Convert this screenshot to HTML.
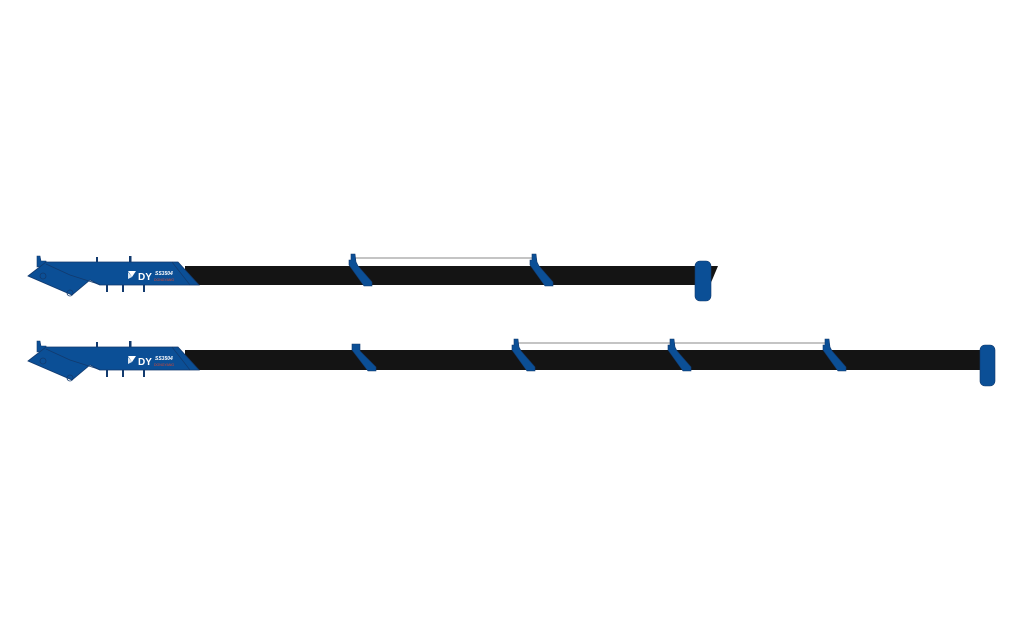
<!DOCTYPE html>
<html><head><meta charset="utf-8"><style>
html,body{margin:0;padding:0;background:#fff;width:1024px;height:640px;overflow:hidden}
svg{display:block}
</style></head><body>
<svg width="1024" height="640" viewBox="0 0 1024 640" xmlns="http://www.w3.org/2000/svg">
<defs>
<g id="clamp">
<polygon points="-3,-12 1,-12 2,-4 4,0 18,16 18,20 10,20 -5,-1 -5,-6 -3,-6" fill="#0b4f96" stroke="#123a6e" stroke-width="0.6"/>
</g>
<g id="clampNoPost">
<polygon points="-6,-7 2,-7 2,0 18,16 18,20 10,20 -6,-1" fill="#0b4f96" stroke="#123a6e" stroke-width="0.6"/>
</g>
<g id="base">
<!-- pins -->
<rect x="96" y="-8" width="2" height="8" fill="#123a6e"/>
<rect x="129" y="-9" width="2.5" height="9" fill="#123a6e"/>
<rect x="106" y="19" width="2" height="8" fill="#123a6e"/>
<rect x="122" y="19" width="2" height="8" fill="#123a6e"/>
<rect x="143" y="19" width="2" height="8" fill="#123a6e"/>
<!-- lug -->
<polygon points="37,-9 40,-9 41,-4 46,-4 47,0 37,2" fill="#0b4f96" stroke="#123a6e" stroke-width="0.6"/>
<!-- main arm -->
<polygon points="28,11 46,-3 178,-3 199,20 100,20 90,15 72,30 28,11" fill="#0b4f96" stroke="#123a6e" stroke-width="0.8"/>
<polyline points="46,-1 70,10 95,18 100,20" fill="none" stroke="#123a6e" stroke-width="0.8"/>
<line x1="172" y1="-3" x2="190" y2="20" stroke="#123a6e" stroke-width="0.7"/>
<circle cx="43" cy="11" r="3" fill="none" stroke="#123a6e" stroke-width="0.8"/>
<circle cx="70" cy="28" r="3" fill="none" stroke="#123a6e" stroke-width="0.8"/>
<!-- logo -->
<polygon points="128,6 136,6 132,12" fill="#fff"/>
<polygon points="128,7 132,12 128,14" fill="#fff" opacity="0.85"/>
<text x="138" y="15" font-family="Liberation Sans, sans-serif" font-weight="bold" font-size="10" fill="#fff">DY</text>
<text x="155" y="10" font-family="Liberation Sans, sans-serif" font-weight="bold" font-style="italic" font-size="5" fill="#fff">SS3504</text>
<text x="154" y="16" font-family="Liberation Sans, sans-serif" font-size="3.5" fill="#e2452a">DONGYANG</text>
</g>
</defs>

<!-- Row 1 -->
<line x1="354" y1="258" x2="535" y2="258" stroke="#888" stroke-width="1"/>
<polygon points="185,266 718,266 710,285 185,285" fill="#141414"/>
<use href="#base" x="0" y="265"/>
<use href="#clamp" x="354" y="266"/>
<use href="#clamp" x="535" y="266"/>
<rect x="695" y="261" width="16" height="40" rx="5" fill="#0b4f96" stroke="#123a6e" stroke-width="0.6"/>

<!-- Row 2 -->
<line x1="517" y1="343" x2="828" y2="343" stroke="#888" stroke-width="1"/>
<rect x="185" y="350" width="800" height="20" fill="#141414"/>
<use href="#base" x="0" y="350"/>
<use href="#clampNoPost" x="358" y="351"/>
<use href="#clamp" x="517" y="351"/>
<use href="#clamp" x="673" y="351"/>
<use href="#clamp" x="828" y="351"/>
<rect x="980" y="345" width="15" height="41" rx="5" fill="#0b4f96" stroke="#123a6e" stroke-width="0.6"/>
</svg>
</body></html>
